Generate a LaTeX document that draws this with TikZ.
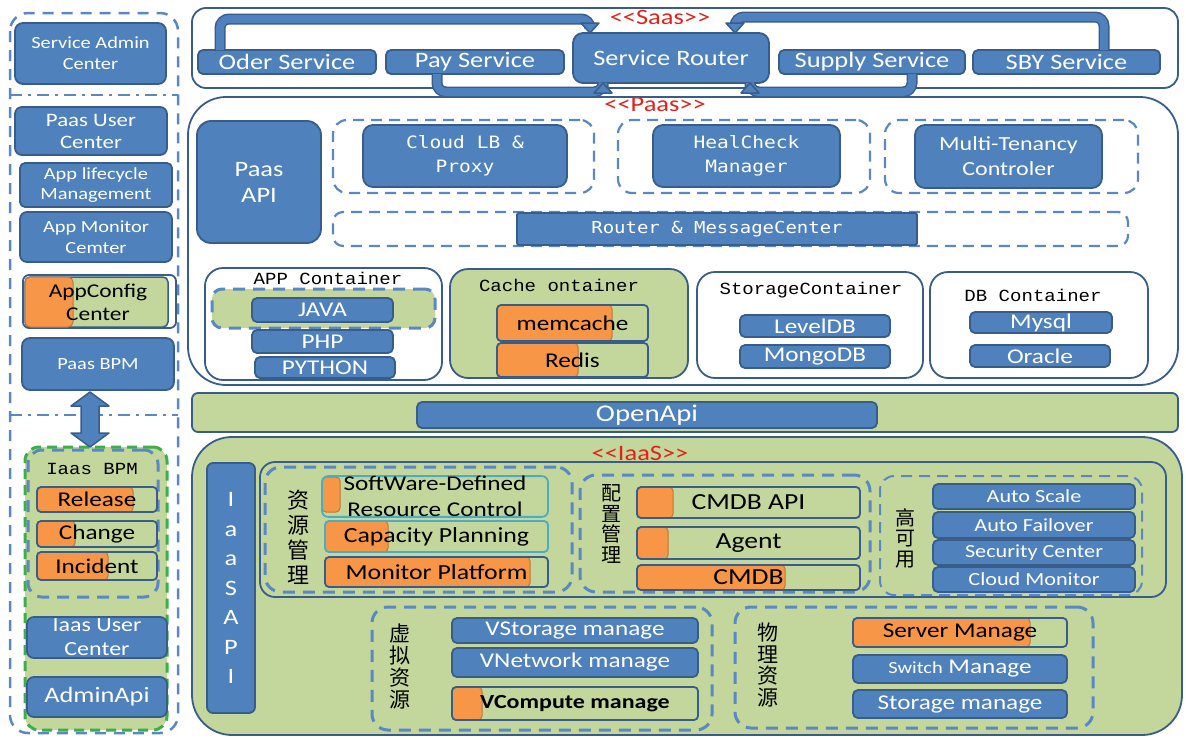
\documentclass[tikz,border=0pt]{standalone}
\usepackage{fontspec}
\setmainfont{Carlito}[FakeStretch=1.2]
\newfontfamily\cjk{Noto Sans CJK SC}
\newfontfamily\msans{DejaVu Sans Mono}[FakeStretch=1.15]
\newfontfamily\mserif{Liberation Mono}[FakeStretch=1.12]
\usetikzlibrary{calc}
\definecolor{mblue}{HTML}{4F81BD}
\definecolor{dblue}{HTML}{385D8A}
\definecolor{lblue}{HTML}{5B88C2}
\definecolor{gfill}{HTML}{C3D69B}
\definecolor{ofill}{HTML}{F79646}
\definecolor{oborder}{HTML}{C0763A}
\definecolor{tealb}{HTML}{4BACC6}
\definecolor{redt}{HTML}{E32119}
\definecolor{gdashc}{HTML}{3DAE4A}
\newcommand\fz[2]{\fontsize{#1}{#2}\selectfont}
\newcommand\bx[7]{%
  \pgfmathsetmacro\bxw{#4-#2}\pgfmathsetmacro\bxh{#5-#3}%
  \node[inner sep=0pt, outer sep=0pt, minimum width=\bxw pt, minimum height=\bxh pt, align=center, #6] (#1) at ({(#2+#4)/2},{(#3+#5)/2}) {#7};}
\newcommand\ob[8]{%
  \fill[gfill, rounded corners=4pt] (#2,#3) rectangle (#4,#5);
  \filldraw[fill=ofill, draw=oborder, line width=1pt, rounded corners=4pt] (#2,#3) rectangle (#6,#5);
  \bx{#1}{#2}{#3}{#4}{#5}{obox, #7}{#8}}
\begin{document}
\begin{tikzpicture}[x=1pt,y=-1pt,
  bb/.style={fill=mblue, draw=dblue, line width=1.8pt, rounded corners=5pt, text=white},
  sframe/.style={fill=white, draw=dblue, line width=1.8pt},
  gframe/.style={fill=gfill, draw=dblue, line width=1.8pt},
  obox/.style={draw=dblue, line width=1.8pt, rounded corners=4pt, text=black},
  bdash/.style={draw=lblue, line width=3pt, dash pattern=on 12pt off 8pt, rounded corners=16pt},
  pdash/.style={draw=lblue, line width=2.2pt, dash pattern=on 11pt off 7pt, rounded corners=14pt},
  ldash/.style={draw=lblue, line width=2.5pt, dash pattern=on 11pt off 8pt},
  lddash/.style={draw=lblue, line width=2.5pt, dash pattern=on 12pt off 6pt on 3pt off 6pt},
  gdashed/.style={fill=gfill, draw=gdashc, line width=3pt, dash pattern=on 10pt off 6pt, rounded corners=14pt},
  pipe/.style={draw=dblue, line width=1.5pt, double=mblue, double distance=8pt, rounded corners=9pt},
  phead/.style={fill=mblue, draw=dblue, line width=1.5pt, line join=round},
  redlbl/.style={text=redt, font=\fz{22}{24}},
  ttl/.style={text=black, font=\mserif\fz{17}{19}}]
\fill[white] (0,0) rectangle (1186,739);
\useasboundingbox (0,0) rectangle (1186,739);

% ---------------- left column
\draw[ldash, rounded corners=18pt] (10,13) rectangle (178,733);
\draw[lddash] (10,95) -- (178,95);
\draw[lddash] (10,415) -- (178,415);
\bx{sac}{15}{23}{166}{84}{bb, rounded corners=8pt, font=\fz{17}{21}}{Service Admin\\Center}
\bx{puc}{15}{107}{167}{155}{bb, rounded corners=7pt, font=\fz{19}{22}}{Paas User\\Center}
\bx{alm}{20}{163}{172}{207}{bb, font=\fz{17}{20}}{App lifecycle\\Management}
\bx{amc}{20}{212}{172}{262}{bb, rounded corners=7pt, font=\fz{17}{21}}{App Monitor\\Cemter}
\bx{acc}{23}{275}{176}{328}{sframe, rounded corners=6pt}{}
\filldraw[fill=gfill, draw=dblue, line width=1.5pt, rounded corners=5pt] (25,277) rectangle (168,327);
\filldraw[fill=ofill, draw=oborder, line width=1pt, rounded corners=5pt] (25,277) rectangle (73,327);
\node[align=center, text=black, font=\fz{19.5}{23}] (acct) at (98,302) {AppConfig\\Center};
\bx{pbpm}{22}{338}{174}{390}{bb, rounded corners=8pt, font=\fz{17}{20}}{Paas BPM}
\bx{ilg}{25}{447}{167}{730}{gdashed}{}
\coordinate (da) at ([xshift=-8pt]pbpm.south);
\filldraw[phead] ([yshift=-2pt]da) -- ++(19,14) -- ++(-10,0) -- ++(0,27) -- ++(10,0) -- ++(-19,14)
  -- ++(-19,-14) -- ++(10,0) -- ++(0,-27) -- ++(-10,0) -- cycle;
\bx{ibpmg}{28}{450}{158}{597}{bdash, rounded corners=14pt}{}
\node[ttl] (ibpmt) at (92,469) {Iaas BPM};
\ob{rel}{37}{487}{157}{512}{133}{font=\fz{21}{23}}{Release}
\ob{chg}{37}{521}{157}{547}{75}{font=\fz{21}{23}}{Change}
\ob{inc}{37}{552}{157}{580}{108}{font=\fz{21}{23}}{Incident}
\bx{iuc}{27}{617}{167}{658}{bb, rounded corners=7pt, font=\fz{20}{24}}{Iaas User\\Center}
\bx{aapi}{27}{677}{167}{717}{bb, rounded corners=7pt, font=\fz{22}{24}}{AdminApi}

% ---------------- Saas and Paas frames
\bx{saas}{192}{8}{1178}{88}{sframe, rounded corners=14pt}{}
\bx{paas}{188}{97}{1178}{385}{sframe, rounded corners=38pt}{}
\node[redlbl] (saaslbl) at (660,17) {<\kern0pt<Saas>\kern0pt>};
\bx{oder}{198}{50}{376}{74}{bb, font=\fz{22}{24}}{Oder Service}
\bx{pay}{386}{50}{564}{74}{bb, font=\fz{22}{24}}{Pay Service}
\bx{router}{573}{33}{769}{83}{bb, rounded corners=10pt, font=\fz{22}{24}}{Service Router}
\bx{supply}{779}{50}{965}{74}{bb, font=\fz{22}{24}}{Supply Service}
\bx{sby}{973}{50}{1160}{74}{bb, font=\fz{22}{24}}{SBY Service}
\coordinate (ytop1) at (0,19);
\coordinate (ytop2) at (0,17);
\coordinate (ybot) at (0,92);
\coordinate (p1s) at ([xshift=22pt]oder.north west);
\coordinate (p1e) at ([xshift=17pt]router.north west);
\coordinate (p2s) at ([xshift=-56pt]sby.north east);
\coordinate (p2e) at ([xshift=-34pt]router.north east);
\coordinate (p3s) at ([xshift=51pt]pay.south west);
\coordinate (p3e) at ([xshift=30pt]router.south west);
\coordinate (p4s) at ([xshift=-53pt]supply.south east);
\coordinate (p4e) at ([xshift=-19pt]router.south east);
\draw[pipe] (p1s) -- (p1s |- ytop1) -- (p1e |- ytop1) -- ([yshift=9pt]p1e);
\filldraw[phead] (p1e) -- ++(-9,-10) -- ++(18,0) -- cycle;
\draw[pipe] (p2s) -- (p2s |- ytop2) -- (p2e |- ytop2) -- ([yshift=9pt]p2e);
\filldraw[phead] (p2e) -- ++(-9,-10) -- ++(18,0) -- cycle;
\draw[pipe] (p3s) -- (p3s |- ybot) -- (p3e |- ybot) -- ([yshift=-9pt]p3e);
\filldraw[phead] (p3e) -- ++(-9,10) -- ++(18,0) -- cycle;
\draw[pipe] (p4s) -- (p4s |- ybot) -- (p4e |- ybot) -- ([yshift=-9pt]p4e);
\filldraw[phead] (p4e) -- ++(-9,10) -- ++(18,0) -- cycle;

% ---------------- Paas content
\node[redlbl] (paaslbl) at (655,105) {<\kern0pt<Paas>\kern0pt>};
\bx{papi}{197}{121}{321}{243}{bb, rounded corners=14pt, font=\fz{22}{26}}{Paas\\API}
\bx{g1}{333}{120}{594}{193}{pdash}{}
\bx{g2}{618}{120}{870}{193}{pdash}{}
\bx{g3}{885}{120}{1138}{193}{pdash}{}
\bx{g4}{333}{212}{1128}{246}{pdash, rounded corners=10pt}{}
\bx{clb}{363}{125}{567}{187}{bb, rounded corners=10pt, font=\msans\fz{17}{24}}{Cloud LB \&\\Proxy}
\bx{hcm}{653}{125}{840}{187}{bb, rounded corners=10pt, font=\msans\fz{17}{24}}{HealCheck\\Manager}
\bx{mtc}{915}{125}{1102}{188}{bb, rounded corners=10pt, font=\fz{20}{25}}{Multi-Tenancy\\Controler}
\bx{rmc}{517}{213}{917}{245}{bb, rounded corners=2pt, font=\msans\fz{16.5}{20}}{Router \& MessageCenter}

\bx{appc}{205}{268}{442}{380}{sframe, rounded corners=18pt}{}
\node[ttl] (appct) at (328,278) {APP Container};
\bx{appg}{212}{289}{435}{328}{fill=gfill, draw=lblue, line width=3pt, dash pattern=on 12pt off 8pt, rounded corners=10pt}{}
\bx{java}{252}{298}{393}{322}{bb, font=\fz{21}{23}}{JAVA}
\bx{php}{252}{330}{393}{353}{bb, font=\fz{21}{23}}{PHP}
\bx{python}{255}{357}{395}{378}{bb, font=\fz{21}{23}}{PYTHON}

\bx{cachec}{450}{269}{688}{378}{gframe, rounded corners=18pt}{}
\node[ttl] (cachet) at (559,285) {Cache ontainer};
\ob{memc}{497}{305}{648}{341}{612}{font=\fz{21}{23}}{memcache}
\ob{redis}{497}{343}{648}{377}{578}{font=\fz{21}{23}}{Redis}

\bx{stc}{697}{272}{923}{378}{sframe, rounded corners=18pt}{}
\node[ttl] (stct) at (811,290) {StorageContainer};
\bx{ldb}{740}{315}{890}{337}{bb, font=\fz{21}{23}}{LevelDB}
\bx{mdb}{740}{345}{890}{368}{bb, font=\fz{21}{23}}{MongoDB}

\bx{dbc}{930}{272}{1148}{378}{sframe, rounded corners=18pt}{}
\node[ttl] (dbct) at (1033,295) {DB Container};
\bx{mysql}{970}{312}{1112}{333}{bb, font=\fz{21}{23}}{Mysql}
\bx{oracle}{970}{345}{1110}{367}{bb, font=\fz{21}{23}}{Oracle}

% ---------------- OpenApi
\bx{oabar}{192}{393}{1178}{432}{gframe, rounded corners=6pt}{}
\bx{oa}{417}{402}{877}{428}{bb, font=\fz{24}{26}}{OpenApi}

% ---------------- IaaS
\bx{iaas}{192}{437}{1182}{735}{gframe, rounded corners=40pt}{}
\node[redlbl] (iaaslbl) at (640,453) {<\kern0pt<IaaS>\kern0pt>};
\bx{iapi}{207}{463}{255}{713}{bb, rounded corners=6pt, font=\fz{22}{29.5}}{I\\a\\a\\S\\A\\P\\I}
\bx{inner}{260}{462}{1166}{597}{draw=dblue, line width=1.8pt, rounded corners=15pt}{}

\bx{zygl}{265}{467}{572}{592}{bdash}{}
\node[align=center, font=\cjk\fz{22}{25}] (zyt) at (298,537) {资\\源\\管\\理};
\fill[gfill, rounded corners=5pt] (322,477) rectangle (548,516);
\filldraw[fill=ofill, draw=oborder, line width=1pt, rounded corners=4pt] (322,477) rectangle (340,512);
\bx{sdrc}{322}{477}{548}{516}{obox, draw=tealb, rounded corners=6pt, font=\fz{21}{26}}{SoftWare-Defined\\Resource Control}
\ob{cap}{325}{521}{548}{552}{388}{draw=tealb, font=\fz{21.5}{24}}{Capacity Planning}
\ob{mon}{325}{557}{548}{587}{530}{font=\fz{21.5}{24}}{Monitor Platform}

\bx{pzgl}{580}{475}{870}{592}{bdash}{}
\node[align=center, font=\cjk\fz{20}{20.5}] (pzt) at (611,524) {配\\置\\管\\理};
\ob{cmdbapi}{637}{487}{860}{518}{673}{font=\fz{23}{25}}{CMDB API}
\ob{agent}{637}{527}{860}{559}{668}{font=\fz{23}{25}}{Agent}
\ob{cmdb}{637}{565}{860}{590}{785}{font=\fz{23}{25}}{CMDB}

\bx{gky}{880}{476}{1142}{595}{pdash, line width=2pt}{}
\node[align=center, font=\cjk\fz{20}{20.5}] (gkyt) at (905,538) {高\\可\\用};
\bx{ascale}{933}{484}{1135}{509}{bb, font=\fz{18.5}{20}}{Auto Scale}
\bx{afail}{933}{512}{1135}{538}{bb, font=\fz{18.5}{20}}{Auto Failover}
\bx{secc}{933}{540}{1135}{565}{bb, font=\fz{18.5}{20}}{Security\hspace{5pt}Center}
\bx{cmon}{933}{567}{1135}{592}{bb, font=\fz{18.5}{20}}{Cloud Monitor}

\bx{xnzy}{372}{607}{712}{730}{bdash}{}
\node[align=center, font=\cjk\fz{21}{22}] (xnt) at (400,667) {虚\\拟\\资\\源};
\bx{vsto}{452}{618}{698}{643}{bb, font=\fz{21}{23}}{VStorage manage}
\bx{vnet}{452}{648}{698}{677}{bb, font=\fz{21}{23}}{VNetwork manage}
\ob{vcomp}{452}{687}{698}{720}{482}{font=\bfseries\fz{20}{22}}{VCompute manage}

\bx{wlzy}{735}{607}{1093}{728}{bdash}{}
\node[align=center, font=\cjk\fz{21}{21.5}] (wlt) at (768,665) {物\\理\\资\\源};
\ob{server}{853}{618}{1067}{647}{1030}{font=\fz{21}{23}}{Server Manage}
\bx{switch}{853}{655}{1067}{683}{bb, font=\fz{21}{23}}{{\fz{17}{20}Switch} Manage}
\bx{storm}{853}{690}{1067}{718}{bb, font=\fz{21}{23}}{Storage manage}
\end{tikzpicture}
\end{document}
